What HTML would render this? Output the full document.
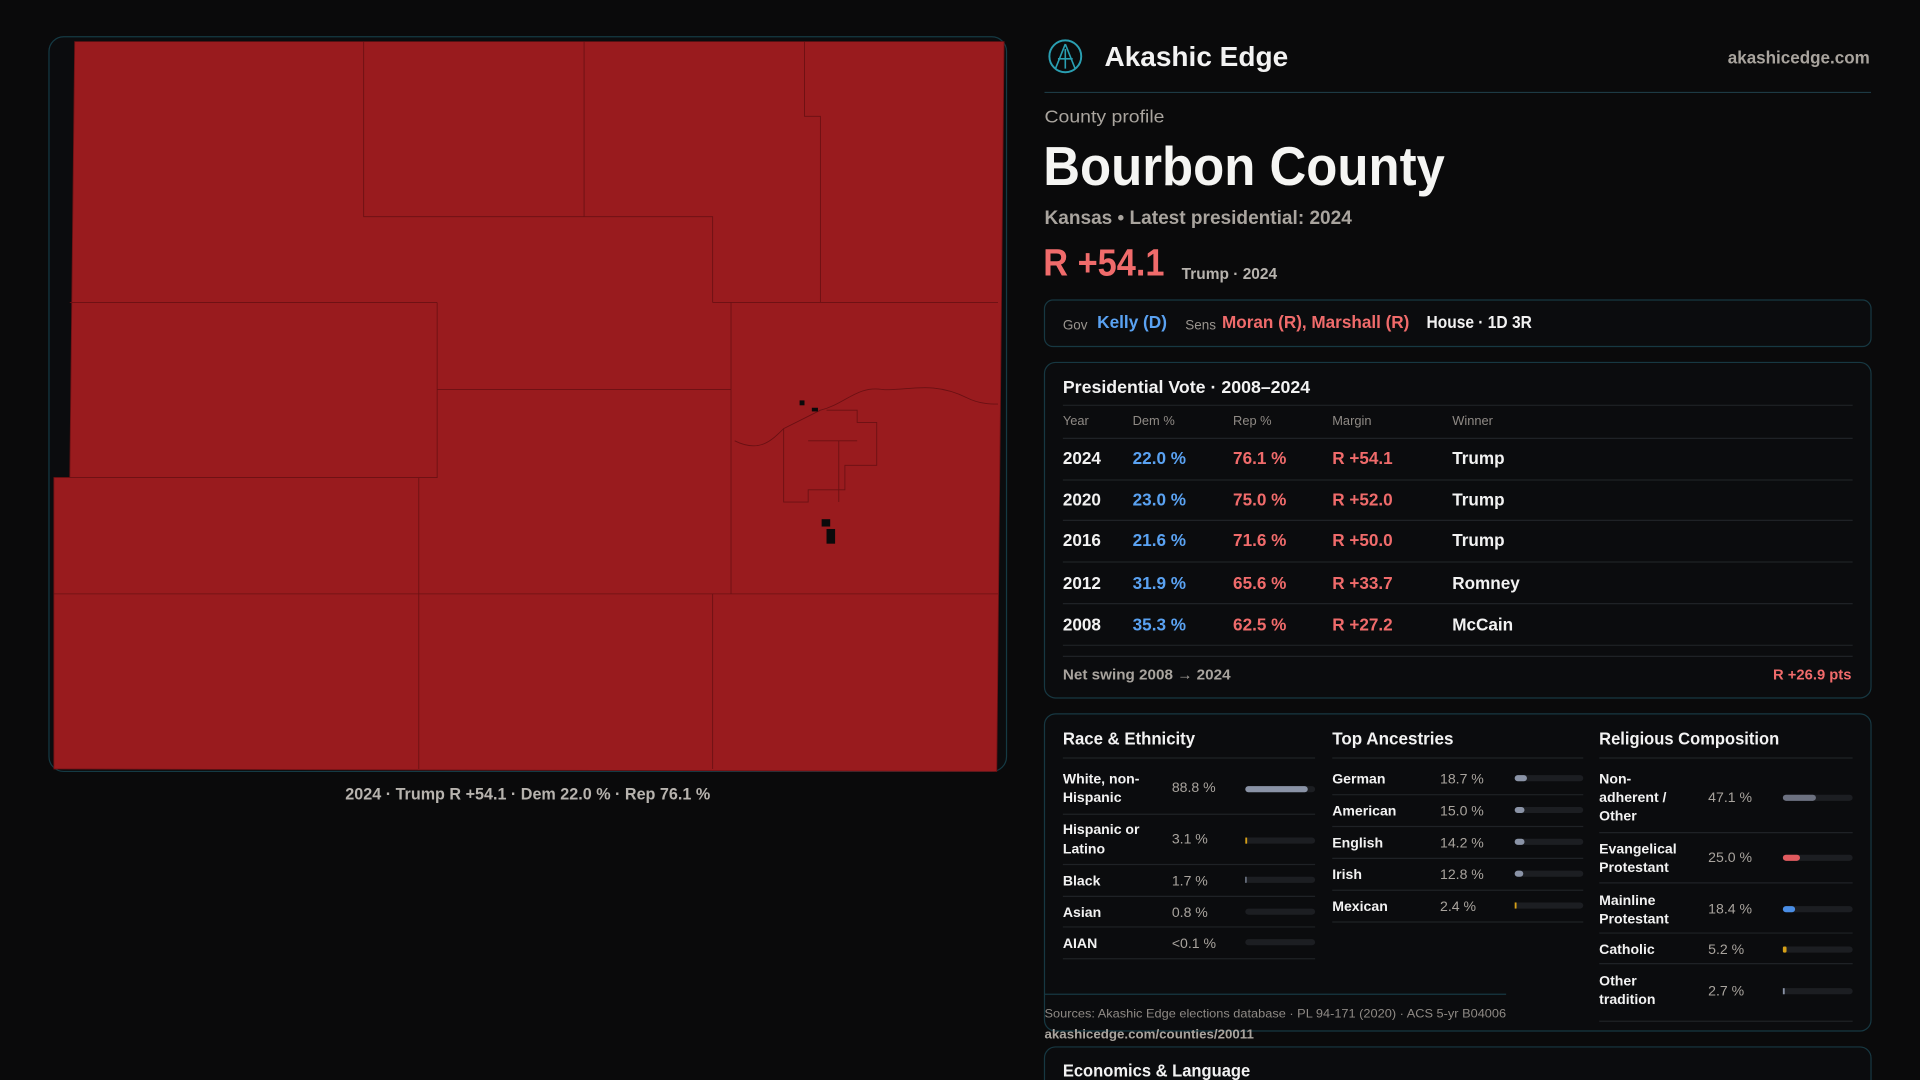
<!DOCTYPE html>
<html><head><meta charset="utf-8"><style>
html,body{margin:0;padding:0;background:#0a0a0b;overflow:hidden}
svg{display:block}
text{font-family:"Liberation Sans",sans-serif}
</style></head><body>
<svg width="1920" height="1080" viewBox="0 0 1568 882" xmlns="http://www.w3.org/2000/svg">
<rect width="1568" height="882" fill="#0a0a0b"/>
<!-- map frame -->
<rect x="40" y="30" width="782" height="600" rx="12" fill="#0b0c0e" stroke="#153a44" stroke-width="1"/>
<g fill="#991b1e" stroke="#6e1114" stroke-width="0.7">
<path d="M61 34 L820 34 L814 630 L44 628 L44 390 L57 390 Z"/>
</g>
<g fill="none" stroke="#6a1013" stroke-width="0.7">
<path d="M297 34 V177 H582 V247"/>
<path d="M477 34 V177"/>
<path d="M657 34 V95 H670 V247"/>
<path d="M57 247 H357 M582 247 H815"/>
<path d="M357 247 V390 H44"/>
<path d="M357 318 H597 M597 247 V485"/>
<path d="M342 390 V628"/>
<path d="M44 485 H815"/>
<path d="M582 485 V628"/>
<path d="M600 360 C620 370 630 360 640 350 C650 345 660 340 670 335 C690 330 700 315 720 318 C740 320 760 310 790 325 C800 330 810 330 815 330"/>
<path d="M640 350 V410 H660 V400 H690 V380 H716 V345 H700 V335 H675"/>
<path d="M660 360 H700 M685 360 V410"/>
</g>
<g fill="#0a0a0b"><rect x="653" y="327" width="4" height="4"/><rect x="663" y="333" width="5" height="3"/><rect x="671" y="424" width="7" height="6"/><rect x="675" y="432" width="7" height="12"/></g>
<text x="431" y="653" text-anchor="middle" font-size="13.5" font-weight="bold" fill="#b7b3ae" textLength="298" lengthAdjust="spacingAndGlyphs">2024 · Trump R +54.1 · Dem 22.0 % · Rep 76.1 %</text>

<!-- header -->
<circle cx="870" cy="46" r="13" fill="none" stroke="#2a9fb2" stroke-width="1.6"/>
<path d="M870 36 L862 56 M870 36 L878 56 M864 48 H876 M870 40 V56" stroke="#2a9fb2" stroke-width="1.3" fill="none"/>
<text x="902" y="54" font-size="23" font-weight="bold" fill="#f2f2f2" textLength="150" lengthAdjust="spacingAndGlyphs">Akashic Edge</text>
<text x="1527" y="52" text-anchor="end" font-size="14" font-weight="bold" fill="#a9a49e" textLength="116" lengthAdjust="spacingAndGlyphs">akashicedge.com</text>
<line x1="853" y1="75.5" x2="1528" y2="75.5" stroke="#1d3a44" stroke-width="1"/>
<text x="853" y="100" font-size="14" fill="#a9a49e" textLength="98" lengthAdjust="spacingAndGlyphs">County profile</text>
<text x="852" y="151" font-size="45" font-weight="bold" fill="#f5f5f3" textLength="328" lengthAdjust="spacingAndGlyphs">Bourbon County</text>
<text x="853" y="183" font-size="16" font-weight="bold" fill="#a9a49e" textLength="251" lengthAdjust="spacingAndGlyphs">Kansas • Latest presidential: 2024</text>
<text x="852" y="225" font-size="31" font-weight="bold" fill="#f06b6b" textLength="99" lengthAdjust="spacingAndGlyphs">R +54.1</text>
<text x="965" y="228" font-size="13" font-weight="bold" fill="#b7b3ae" textLength="78" lengthAdjust="spacingAndGlyphs">Trump · 2024</text>

<!-- gov box -->
<rect x="853" y="245" width="675" height="38" rx="7" fill="#0b0c0e" stroke="#173842"/>
<text x="868" y="269" font-size="11" fill="#9a958f">Gov</text>
<text x="896" y="268" font-size="14" font-weight="bold" fill="#5aa2f2" textLength="57" lengthAdjust="spacingAndGlyphs">Kelly (D)</text>
<text x="968" y="269" font-size="11" fill="#9a958f">Sens</text>
<text x="998" y="268" font-size="14" font-weight="bold" fill="#f06b6b" textLength="153" lengthAdjust="spacingAndGlyphs">Moran (R), Marshall (R)</text>
<text x="1165" y="268" font-size="14" font-weight="bold" fill="#f2f2f2" textLength="86" lengthAdjust="spacingAndGlyphs">House · 1D 3R</text>

<!-- presidential card -->
<rect x="853" y="296" width="675" height="274" rx="9" fill="#0b0c0e" stroke="#173842"/>
<text x="868" y="321" font-size="14" font-weight="bold" fill="#f2f2f2" textLength="202" lengthAdjust="spacingAndGlyphs">Presidential Vote · 2008–2024</text>
<g stroke="#1f2226" stroke-width="1">
<line x1="868" y1="331" x2="1513" y2="331"/><line x1="868" y1="358" x2="1513" y2="358"/><line x1="868" y1="392" x2="1513" y2="392"/><line x1="868" y1="425" x2="1513" y2="425"/><line x1="868" y1="459" x2="1513" y2="459"/><line x1="868" y1="493" x2="1513" y2="493"/><line x1="868" y1="527" x2="1513" y2="527"/><line x1="868" y1="536" x2="1513" y2="536"/>
</g>
<g font-size="10.5" fill="#8f8a85"><text x="868" y="347">Year</text><text x="925" y="347">Dem %</text><text x="1007" y="347">Rep %</text><text x="1088" y="347">Margin</text><text x="1186" y="347">Winner</text></g>
<g font-size="14" font-weight="bold">
<g fill="#f2f2f2"><text x="868" y="379">2024</text><text x="868" y="413">2020</text><text x="868" y="446">2016</text><text x="868" y="481">2012</text><text x="868" y="515">2008</text>
<text x="1186" y="379">Trump</text><text x="1186" y="413">Trump</text><text x="1186" y="446">Trump</text><text x="1186" y="481">Romney</text><text x="1186" y="515">McCain</text></g>
<g fill="#5aa2f2"><text x="925" y="379">22.0 %</text><text x="925" y="413">23.0 %</text><text x="925" y="446">21.6 %</text><text x="925" y="481">31.9 %</text><text x="925" y="515">35.3 %</text></g>
<g fill="#f06b6b"><text x="1007" y="379">76.1 %</text><text x="1007" y="413">75.0 %</text><text x="1007" y="446">71.6 %</text><text x="1007" y="481">65.6 %</text><text x="1007" y="515">62.5 %</text>
<text x="1088" y="379">R +54.1</text><text x="1088" y="413">R +52.0</text><text x="1088" y="446">R +50.0</text><text x="1088" y="481">R +33.7</text><text x="1088" y="515">R +27.2</text></g>
</g>
<text x="868" y="555" font-size="12" font-weight="bold" fill="#a9a49e" textLength="137" lengthAdjust="spacingAndGlyphs">Net swing 2008 → 2024</text>
<text x="1512" y="555" text-anchor="end" font-size="12" font-weight="bold" fill="#f06b6b" textLength="64" lengthAdjust="spacingAndGlyphs">R +26.9 pts</text>

<!-- demographics card -->
<rect x="853" y="583" width="675" height="259" rx="9" fill="#0b0c0e" stroke="#173842"/>
<g font-size="14" font-weight="bold" fill="#f2f2f2">
<text x="868" y="608" textLength="108" lengthAdjust="spacingAndGlyphs">Race &amp; Ethnicity</text>
<text x="1088" y="608" textLength="99" lengthAdjust="spacingAndGlyphs">Top Ancestries</text>
<text x="1306" y="608" textLength="147" lengthAdjust="spacingAndGlyphs">Religious Composition</text>
</g>
<g stroke="#1f2226">
<line x1="868" y1="619" x2="1074" y2="619"/><line x1="868" y1="665" x2="1074" y2="665"/><line x1="868" y1="706" x2="1074" y2="706"/><line x1="868" y1="732" x2="1074" y2="732"/><line x1="868" y1="757" x2="1074" y2="757"/><line x1="868" y1="783" x2="1074" y2="783"/>
<line x1="1088" y1="619" x2="1293" y2="619"/><line x1="1088" y1="649" x2="1293" y2="649"/><line x1="1088" y1="675" x2="1293" y2="675"/><line x1="1088" y1="701" x2="1293" y2="701"/><line x1="1088" y1="727" x2="1293" y2="727"/><line x1="1088" y1="753" x2="1293" y2="753"/>
<line x1="1306" y1="619" x2="1513" y2="619"/><line x1="1306" y1="680" x2="1513" y2="680"/><line x1="1306" y1="721" x2="1513" y2="721"/><line x1="1306" y1="762" x2="1513" y2="762"/><line x1="1306" y1="787" x2="1513" y2="787"/><line x1="1306" y1="834" x2="1513" y2="834"/>
</g>
<g font-size="11.5" font-weight="bold" fill="#f2f2f2">
<text x="868" y="640">White, non-</text><text x="868" y="655">Hispanic</text>
<text x="868" y="681">Hispanic or</text><text x="868" y="697">Latino</text>
<text x="868" y="723">Black</text><text x="868" y="749">Asian</text><text x="868" y="774">AIAN</text>
<text x="1088" y="640">German</text><text x="1088" y="666">American</text><text x="1088" y="692">English</text><text x="1088" y="718">Irish</text><text x="1088" y="744">Mexican</text>
<text x="1306" y="640">Non-</text><text x="1306" y="655">adherent /</text><text x="1306" y="670">Other</text>
<text x="1306" y="697">Evangelical</text><text x="1306" y="712">Protestant</text>
<text x="1306" y="739">Mainline</text><text x="1306" y="754">Protestant</text>
<text x="1306" y="779">Catholic</text><text x="1306" y="805">Other</text><text x="1306" y="820">tradition</text>
</g>
<g font-size="11.5" fill="#a9a49e">
<text x="957" y="647">88.8 %</text><text x="957" y="689">3.1 %</text><text x="957" y="723">1.7 %</text><text x="957" y="749">0.8 %</text><text x="957" y="774">&lt;0.1 %</text>
<text x="1176" y="640">18.7 %</text><text x="1176" y="666">15.0 %</text><text x="1176" y="692">14.2 %</text><text x="1176" y="718">12.8 %</text><text x="1176" y="744">2.4 %</text>
<text x="1395" y="655">47.1 %</text><text x="1395" y="704">25.0 %</text><text x="1395" y="746">18.4 %</text><text x="1395" y="779">5.2 %</text><text x="1395" y="813">2.7 %</text>
</g>
<g fill="#1c1e22">
<rect x="1017" y="642" width="57" height="5" rx="2.5"/><rect x="1017" y="684" width="57" height="5" rx="2.5"/><rect x="1017" y="716" width="57" height="5" rx="2.5"/><rect x="1017" y="742" width="57" height="5" rx="2.5"/><rect x="1017" y="767" width="57" height="5" rx="2.5"/>
<rect x="1237" y="633" width="56" height="5" rx="2.5"/><rect x="1237" y="659" width="56" height="5" rx="2.5"/><rect x="1237" y="685" width="56" height="5" rx="2.5"/><rect x="1237" y="711" width="56" height="5" rx="2.5"/><rect x="1237" y="737" width="56" height="5" rx="2.5"/>
<rect x="1456" y="649" width="57" height="5" rx="2.5"/><rect x="1456" y="698" width="57" height="5" rx="2.5"/><rect x="1456" y="740" width="57" height="5" rx="2.5"/><rect x="1456" y="773" width="57" height="5" rx="2.5"/><rect x="1456" y="807" width="57" height="5" rx="2.5"/>
</g>
<rect x="1017" y="642" width="51" height="5" rx="2.5" fill="#8a93a6"/>
<rect x="1017" y="684" width="1.5" height="5" fill="#d6a018"/>
<rect x="1017" y="716" width="1" height="5" fill="#8a93a6"/>
<rect x="1237" y="633" width="10" height="5" rx="2.5" fill="#8a93a6"/>
<rect x="1237" y="659" width="8" height="5" rx="2.5" fill="#8a93a6"/>
<rect x="1237" y="685" width="8" height="5" rx="2.5" fill="#8a93a6"/>
<rect x="1237" y="711" width="7" height="5" rx="2.5" fill="#8a93a6"/>
<rect x="1237" y="737" width="1.5" height="5" fill="#d6a018"/>
<rect x="1456" y="649" width="27" height="5" rx="2.5" fill="#6c7180"/>
<rect x="1456" y="698" width="14" height="5" rx="2.5" fill="#e05a5e"/>
<rect x="1456" y="740" width="10" height="5" rx="2.5" fill="#4a8ee6"/>
<rect x="1456" y="773" width="3" height="5" rx="1" fill="#d6a018"/>
<rect x="1456" y="807" width="1.5" height="5" fill="#8a93a6"/>
<line x1="853" y1="812" x2="1230" y2="812" stroke="#173842"/>
<text x="853" y="831" font-size="10" fill="#8f8a85" textLength="377" lengthAdjust="spacingAndGlyphs">Sources: Akashic Edge elections database · PL 94-171 (2020) · ACS 5-yr B04006</text>
<text x="853" y="848" font-size="10.5" font-weight="bold" fill="#a9a49e" textLength="171" lengthAdjust="spacingAndGlyphs">akashicedge.com/counties/20011</text>

<!-- economics card -->
<rect x="853" y="855" width="675" height="60" rx="9" fill="#0b0c0e" stroke="#173842"/>
<text x="868" y="879" font-size="14" font-weight="bold" fill="#f2f2f2" textLength="153" lengthAdjust="spacingAndGlyphs">Economics &amp; Language</text>
</svg>
</body></html>
